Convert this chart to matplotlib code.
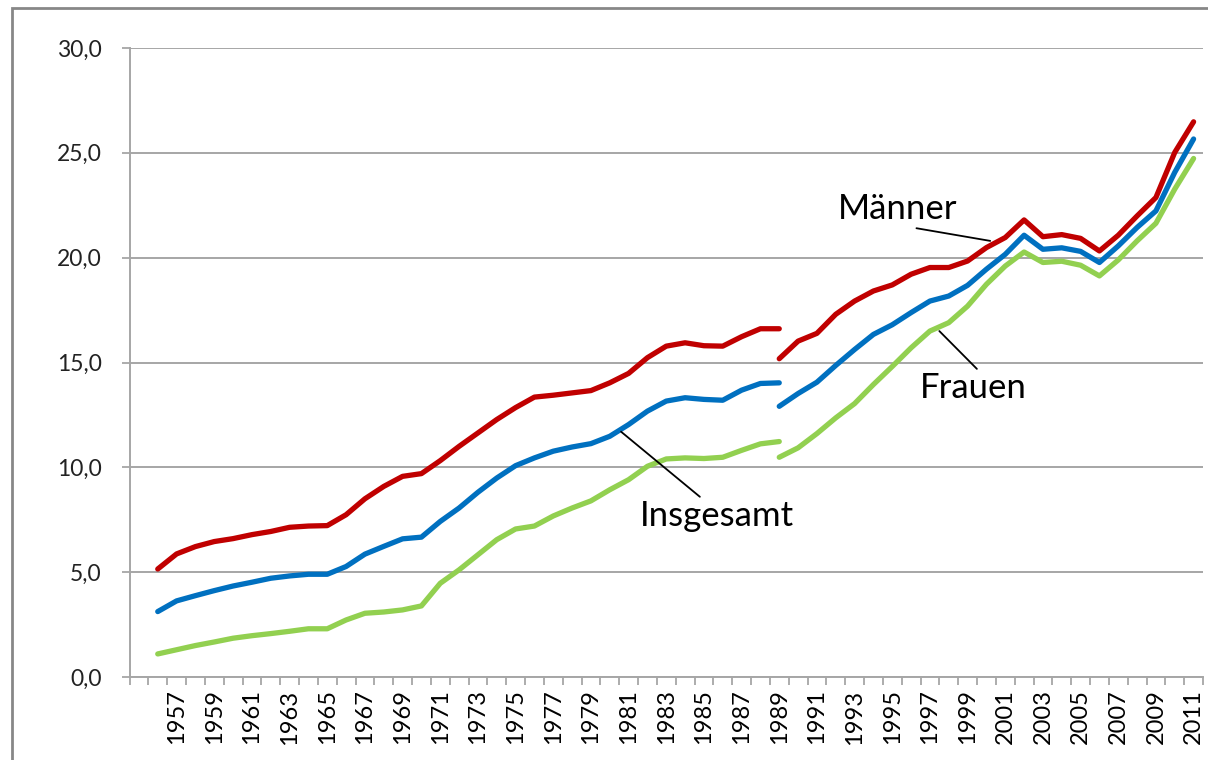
import numpy as np
import matplotlib
matplotlib.use("Agg")
import matplotlib.pyplot as plt
from matplotlib.patches import Rectangle

plt.rcParams['font.family'] = ['Lato', 'DejaVu Sans']

# West Germany series up to 1989
years_old = list(range(1956, 1990))
maenner_old = [5.15, 5.87, 6.22, 6.46, 6.60, 6.79, 6.94, 7.14, 7.20, 7.22,
               7.74, 8.50, 9.09, 9.57, 9.70, 10.32, 11.00, 11.64, 12.28, 12.85,
               13.35, 13.44, 13.55, 13.66, 14.03, 14.48, 15.23, 15.78, 15.94, 15.80,
               15.78, 16.23, 16.61, 16.61]
insgesamt_old = [3.12, 3.63, 3.88, 4.12, 4.34, 4.52, 4.71, 4.82, 4.90, 4.90,
                 5.27, 5.86, 6.23, 6.59, 6.67, 7.42, 8.06, 8.81, 9.49, 10.08,
                 10.45, 10.77, 10.97, 11.13, 11.48, 12.04, 12.68, 13.16, 13.32, 13.24,
                 13.20, 13.68, 14.00, 14.03]
frauen_old = [1.10, 1.30, 1.50, 1.67, 1.85, 1.97, 2.07, 2.18, 2.30, 2.30,
              2.72, 3.04, 3.10, 3.20, 3.39, 4.47, 5.11, 5.83, 6.55, 7.06,
              7.20, 7.68, 8.06, 8.40, 8.93, 9.41, 10.05, 10.40, 10.45, 10.42,
              10.48, 10.81, 11.12, 11.23]

# unified Germany series from 1989
years_new = list(range(1989, 2012))
maenner_new = [15.18, 16.02, 16.39, 17.30, 17.93, 18.41, 18.70, 19.21, 19.53, 19.53,
               19.84, 20.48, 20.96, 21.80, 21.00, 21.10, 20.92, 20.32, 21.07, 21.99,
               22.87, 25.02, 26.48]
insgesamt_new = [12.91, 13.52, 14.06, 14.86, 15.62, 16.34, 16.80, 17.38, 17.93, 18.17,
                 18.68, 19.45, 20.16, 21.07, 20.40, 20.47, 20.30, 19.77, 20.56, 21.44,
                 22.23, 24.07, 25.66]
frauen_new = [10.48, 10.93, 11.61, 12.36, 13.04, 13.95, 14.81, 15.70, 16.50, 16.90,
              17.69, 18.73, 19.60, 20.27, 19.77, 19.83, 19.64, 19.13, 19.89, 20.80,
              21.64, 23.27, 24.73]

label_years = list(range(1957, 2012, 2))
y_ticks = [0, 5, 10, 15, 20, 25, 30]

red = '#C00000'
blue = '#0070C0'
green = '#92D050'
grid_c = '#A6A6A6'

fig = plt.figure(figsize=(12.08, 7.6), dpi=100)
ax = fig.add_axes([129.5 / 1208, 1 - 677 / 760, (1203 - 129.5) / 1208, (677 - 48) / 760])

for xs, ys, c in [(years_old, maenner_old, red), (years_old, insgesamt_old, blue),
                  (years_old, frauen_old, green), (years_new, maenner_new, red),
                  (years_new, insgesamt_new, blue), (years_new, frauen_new, green)]:
    ax.plot(xs, ys, color=c, lw=3.8, solid_capstyle='round', solid_joinstyle='round', zorder=3)

ax.set_xlim(1954.5, 2011.5)
ax.set_ylim(0, 30)
ax.set_yticks(y_ticks)
ax.set_yticklabels([f'{v:.1f}'.replace('.', ',') for v in y_ticks])
ax.set_xticks(label_years)
ax.set_xticklabels([str(y) for y in label_years], rotation=90)
ax.set_xticks(np.arange(1954.5, 2012, 1), minor=True)
ax.tick_params(axis='x', which='major', length=0, pad=9, labelsize=17, labelcolor='black')
ax.tick_params(axis='x', which='minor', length=6, width=1.3, color=grid_c)
ax.tick_params(axis='y', which='major', length=6, width=1.3, color=grid_c, pad=14,
               labelsize=16.5, labelcolor='#222222')

ax.grid(axis='y', color=grid_c, lw=1.4, zorder=0)
for s in ['top', 'right']:
    ax.spines[s].set_visible(False)
for s in ['left', 'bottom']:
    ax.spines[s].set_color(grid_c)
    ax.spines[s].set_linewidth(1.4)

# annotations
ax.annotate('Männer', xy=(2000.2, 20.8), xytext=(1995.3, 22.3), fontsize=25,
            ha='center', va='center',
            arrowprops=dict(arrowstyle='-', color='black', lw=1.3, shrinkA=0, shrinkB=0,
                            relpos=(0.52, 0.0)))
ax.annotate('Frauen', xy=(1997.5, 16.5), xytext=(1999.3, 13.8), fontsize=25,
            ha='center', va='center',
            arrowprops=dict(arrowstyle='-', color='black', lw=1.3, shrinkA=0, shrinkB=0,
                            relpos=(0.56, 1.0)))
ax.annotate('Insgesamt', xy=(1980.6, 11.7), xytext=(1985.7, 7.7), fontsize=25,
            ha='center', va='center',
            arrowprops=dict(arrowstyle='-', color='black', lw=1.3, shrinkA=0, shrinkB=0,
                            relpos=(0.41, 1.0)))

# outer chart border
fig.patches.append(Rectangle((12 / 1208, -0.05), 1.2, 0.05 + 1 - 8 / 760,
                             transform=fig.transFigure, fill=False,
                             edgecolor='#878787', lw=2))

fig.savefig('out.png', dpi=100)
